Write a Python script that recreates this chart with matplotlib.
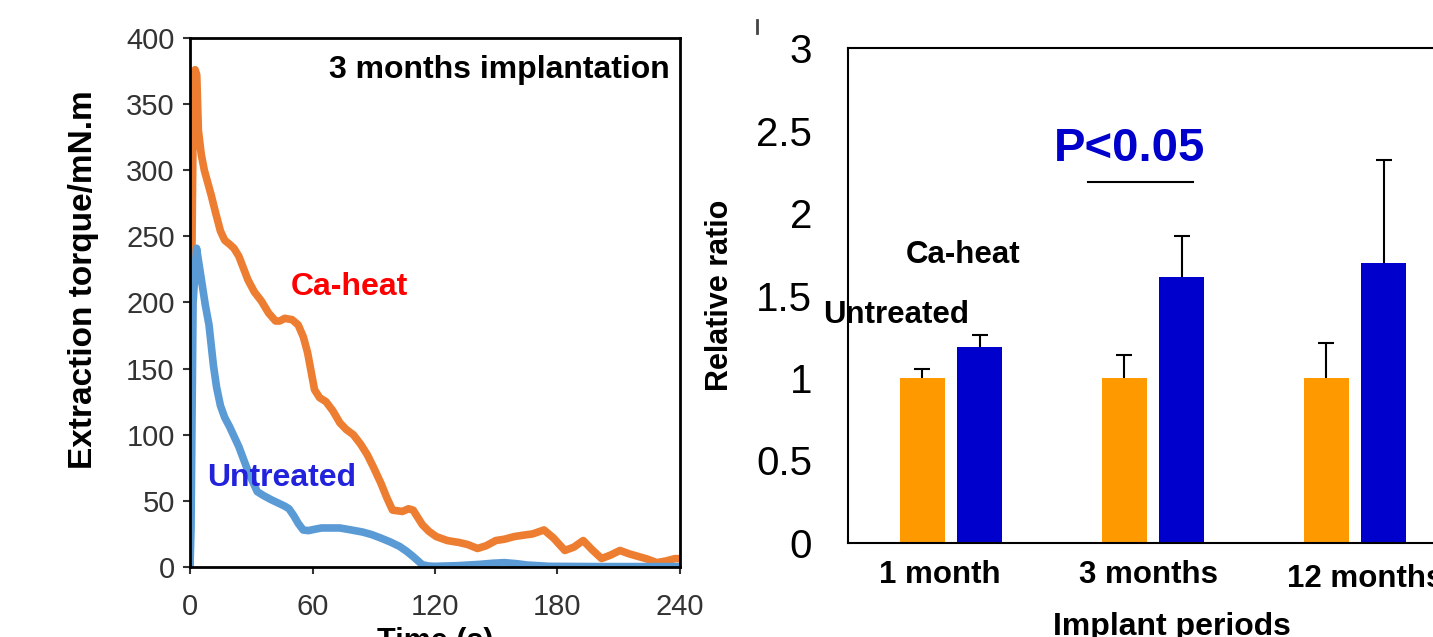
#!/usr/bin/env python3

import matplotlib.pyplot as plt
from matplotlib.lines import Line2D

plt.rcParams['font.family'] = ['Liberation Sans', 'DejaVu Sans']

# left panel: extraction torque curves (3 months)
t_caheat = [0, 0.5, 1.5, 2.5, 3.3, 4.1, 5.5, 7, 10.4, 12.5, 14.9, 17, 19.4, 21.5,
            23.9, 28.4, 31.5, 35, 38.5, 41.9, 44, 46.4, 50, 53, 55.5, 57.6, 61,
            63.5, 66.6, 70, 73.4, 76.5, 80, 83.5, 86.8, 90, 93.6, 96.5, 99.2, 104,
            107, 109.3, 113.8, 117, 120.6, 126, 131.9, 136, 140.8, 145, 149.8, 154,
            158.8, 163, 167.8, 173.4, 178, 183.6, 188, 192.6, 197, 201.6, 206,
            210.6, 215, 219.5, 224, 228.6, 233, 237.5, 240]
y_caheat = [0, 170, 330, 376, 372, 330, 312, 300, 281, 268, 254, 247, 244, 241,
            235, 217, 208, 201, 192, 186, 186, 188, 187, 183, 174, 162, 134,
            128, 125, 118, 109, 104, 100, 93, 85, 75, 63, 52, 43, 42,
            44, 43, 32, 27, 23, 20, 18.5, 17, 14, 16, 20, 21,
            23, 24, 25, 28, 22, 12.5, 15, 20, 13, 6.4, 9,
            12.5, 10, 8, 6, 3.3, 4.5, 6.3, 6.3]
t_untreated = [0, 0.5, 1.5, 3.2, 4.5, 5.9, 7.5, 9.3, 11.5, 13, 14.9, 17, 19.4, 21.5,
               23.9, 28.4, 32.9, 36, 39.6, 43, 46.4, 48.5, 50.9, 53, 55.4, 58, 61,
               64.4, 69, 73.4, 79, 84.6, 89, 93.6, 98, 102.6, 106, 109.3, 113.8,
               117, 120, 131, 142, 148, 154, 160, 165, 176, 200, 240]
y_untreated = [0, 30, 200, 241, 228, 214, 198, 183, 152, 136, 122, 113, 106, 99,
               91, 72.5, 57, 54, 51, 48.5, 46, 44, 38.6, 33, 28, 27.5, 28.5,
               29.5, 29.5, 29.5, 28, 26.4, 24.5, 21.8, 19, 15.6, 12, 7.9, 1.7,
               0.7, 0.5, 1, 2, 2.8, 3.3, 2.5, 1.5, 0.5, 0.3, 0.3]

# right panel: relative ratio bars
periods = ['1 month', '3 months', '12 months']
untreated_ratio = [1.0, 1.0, 1.0]
untreated_err = [0.055, 0.14, 0.21]
caheat_ratio = [1.19, 1.61, 1.70]
caheat_err = [0.07, 0.25, 0.62]

fig = plt.figure(figsize=(14.33, 6.37), dpi=100)

# ---- left panel
ax1 = fig.add_axes([0.1326, 0.1099, 0.3419, 0.8305])
ax1.plot(t_caheat, y_caheat, color='#ED7D31', lw=5.5, solid_joinstyle='round')
ax1.plot(t_untreated, y_untreated, color='#5B9BD5', lw=5.5, solid_joinstyle='round')
ax1.set_xlim(0, 240)
ax1.set_ylim(0, 400)
ax1.set_xticks([0, 60, 120, 180, 240])
ax1.set_yticks(range(0, 401, 50))
ax1.tick_params(labelsize=21, colors='#333333', length=5, width=1.5)
ax1.tick_params(axis='x', pad=14)
ax1.tick_params(axis='y', pad=6)
for s in ax1.spines.values():
    s.set_linewidth(2)
ax1.set_xlabel('Time (s)', fontsize=22, fontweight='bold', labelpad=4)
ax1.set_ylabel('Extraction torque/mN.m', fontsize=24, fontweight='bold')
ax1.yaxis.set_label_coords(-0.185, 0.544)
ax1.text(0.98, 0.94, '3 months implantation', transform=ax1.transAxes,
         ha='right', va='center', fontsize=23, fontweight='bold')
ax1.text(0.205, 0.53, 'Ca-heat', transform=ax1.transAxes, color='#FF0000',
         ha='left', va='center', fontsize=23, fontweight='bold')
ax1.text(0.035, 0.168, 'Untreated', transform=ax1.transAxes, color='#2222DD',
         ha='left', va='center', fontsize=23, fontweight='bold')

# ---- right panel
ax2 = fig.add_axes([0.5918, 0.1476, 0.4383, 0.777])
x = list(range(len(periods)))
bw = 0.223
off = 0.143
xu = [i - off for i in x]
xc = [i + off for i in x]
ax2.bar(xu, untreated_ratio, width=bw, color='#FF9900')
ax2.bar(xc, caheat_ratio, width=bw, color='#0000CC')
for xs, ys, es in [(xu, untreated_ratio, untreated_err), (xc, caheat_ratio, caheat_err)]:
    ax2.errorbar(xs, ys, yerr=[[0] * len(es), es], fmt='none', ecolor='black',
                 elinewidth=1.5, capsize=0)
    ax2.plot(xs, [a + b for a, b in zip(ys, es)], ls='none', marker='_',
             color='black', ms=11, mew=1.5)
ax2.set_xlim(-0.51, 2.6)
ax2.set_ylim(0, 3)
ax2.set_yticks([0, 0.5, 1, 1.5, 2, 2.5, 3])
ax2.set_yticklabels(['0', '0.5', '1', '1.5', '2', '2.5', '3'])
ax2.tick_params(axis='y', labelsize=29, length=0, pad=26)
ax2.set_xticks([-0.055, 0.98, 2.05])
ax2.set_xticklabels(periods, fontsize=22.5, fontweight='bold')
ax2.tick_params(axis='x', length=0, pad=12)
ax2.get_xticklabels()[2].set_y(-0.008)
for s in ax2.spines.values():
    s.set_linewidth(1.5)
ax2.set_xlabel('Implant periods', fontsize=23, fontweight='bold', labelpad=14)
ax2.xaxis.set_label_coords(0.515, -0.14)
ax2.set_ylabel('Relative ratio', fontsize=22, fontweight='bold')
ax2.yaxis.set_label_coords(-0.18, 0.5)
ax2.text(0.06, 1.745, 'Ca-heat', ha='center', va='center', fontsize=22.5,
         fontweight='bold')
ax2.text(-0.27, 1.38, 'Untreated', ha='center', va='center', fontsize=22.5,
         fontweight='bold')
ax2.text(0.886, 2.39, 'P<0.05', ha='center', va='center', fontsize=34,
         fontweight='bold', color='#0000CC')
ax2.plot([0.68, 1.2], [2.19, 2.19], color='black', lw=1.5)

# small stray mark at top of the right panel
fig.add_artist(Line2D([757 / 1433, 757 / 1433], [1 - 20 / 637, 1 - 33 / 637],
                      color='#444444', lw=2))

plt.savefig('out.png', dpi=100)
